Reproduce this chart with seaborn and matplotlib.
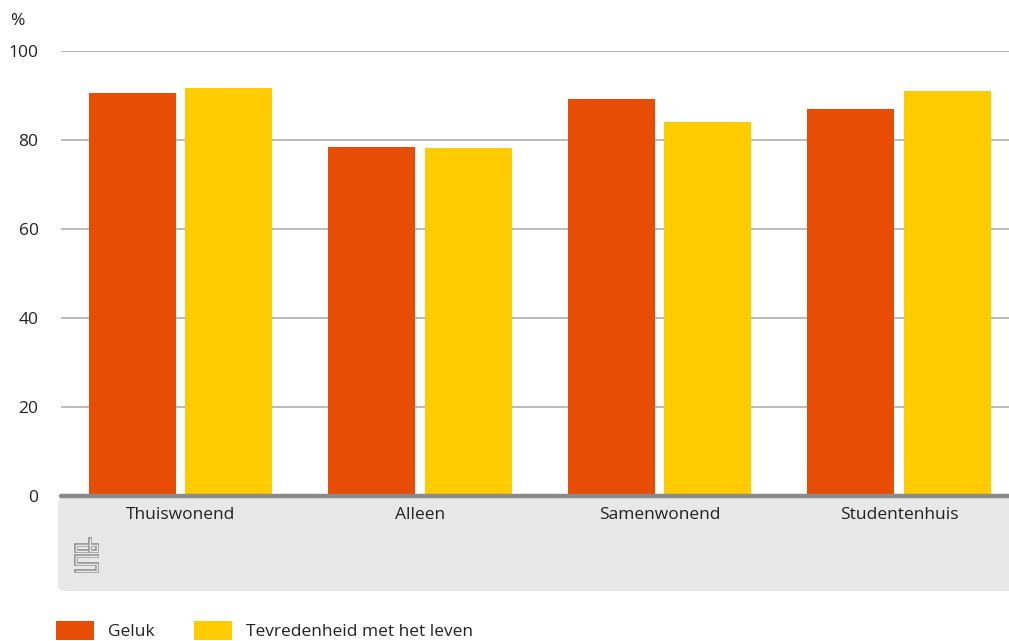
import matplotlib
matplotlib.use("Agg")
import matplotlib.pyplot as plt
import seaborn as sns
import pandas as pd
from matplotlib.patches import FancyBboxPatch, Patch
from matplotlib.lines import Line2D

categories = ["Thuiswonend", "Alleen", "Samenwonend", "Studentenhuis"]
geluk = [90.6, 78.4, 89.2, 87.0]
tevredenheid = [91.7, 78.2, 84.0, 91.0]
series = ["Geluk", "Tevredenheid met het leven"]
colors = ["#e84d06", "#ffcc00"]
yticks = [0, 20, 40, 60, 80, 100]

sns.set_theme(style="white")
plt.rcParams["font.family"] = ["Open Sans", "DejaVu Sans"]

df = pd.DataFrame({
    "cat": categories * 2,
    "val": geluk + tevredenheid,
    "serie": [series[0]] * 4 + [series[1]] * 4,
})

W, H = 1009, 641
FS = 12.5
TXT = "#222222"
fig = plt.figure(figsize=(W / 100, H / 100), dpi=100)
ax = fig.add_axes([60.75 / W, 145 / H, 958 / W, 445 / H])
ax.set_zorder(2)

# grey box under the axis
box = FancyBboxPatch((58 / W, (H - 591) / H), (W - 58) / W + 0.02, (591 - 497) / H,
                     boxstyle="round,pad=0,rounding_size=0.008",
                     transform=fig.transFigure, facecolor="#e8e8e8",
                     edgecolor="none", zorder=-5)
fig.patches.append(box)

sns.barplot(data=df, x="cat", y="val", hue="serie", palette=colors,
            width=0.802, gap=0.094, saturation=1, legend=False, ax=ax,
            linewidth=0, zorder=3)

ax.set_ylim(0, 100)
ax.set_xlim(-0.5, 3.5)
ax.set_yticks(yticks)
ax.set_yticklabels([str(t) for t in yticks], fontsize=FS, color=TXT)
ax.yaxis.grid(True, color="#a8a8a8", linewidth=1.1)
ax.set_axisbelow(True)
for s in ax.spines.values():
    s.set_visible(False)
ax.axhline(0, color="#8a8a8a", linewidth=3.2, zorder=5, clip_on=False)
ax.tick_params(axis="y", length=0, pad=16)
ax.tick_params(axis="x", length=0, pad=8, labelsize=FS, labelcolor=TXT)
ax.set_xlabel("")
ax.set_ylabel("")
ax.patch.set_alpha(0)

fig.text(10 / W, (H - 21) / H, "%", fontsize=FS, color=TXT, va="center", ha="left")

# simplified CBS logo (outlined strokes)
def px(x, y):
    return x / W, (H - y) / H
logo_paths = [
    [(87, 545), (76, 545), (76, 550.5), (87, 550.5)],
    [(90, 539), (90, 550.5), (97, 550.5), (97, 545), (90, 545)],
    [(97, 556), (76, 556), (76, 563.5), (97, 563.5), (97, 571), (76, 571)],
]
for p in logo_paths:
    xs, ys = zip(*[px(x, y) for x, y in p])
    fig.add_artist(Line2D(xs, ys, color="#9a9a9a", linewidth=2.8,
                          solid_joinstyle="miter", solid_capstyle="projecting",
                          transform=fig.transFigure, zorder=1))
    fig.add_artist(Line2D(xs, ys, color="#e8e8e8", linewidth=1.0,
                          solid_joinstyle="miter", solid_capstyle="projecting",
                          transform=fig.transFigure, zorder=2))

handles = [Patch(facecolor=c, edgecolor="none") for c in colors]
fig.legend(handles, series, loc="upper left", bbox_to_anchor=(56 / W, (H - 621) / H),
           ncol=2, frameon=False, fontsize=FS, handlelength=2.2, handleheight=1.3,
           handletextpad=0.8, columnspacing=2.28, borderpad=0, borderaxespad=0,
           labelcolor=TXT)

fig.savefig("out.png", dpi=100)
